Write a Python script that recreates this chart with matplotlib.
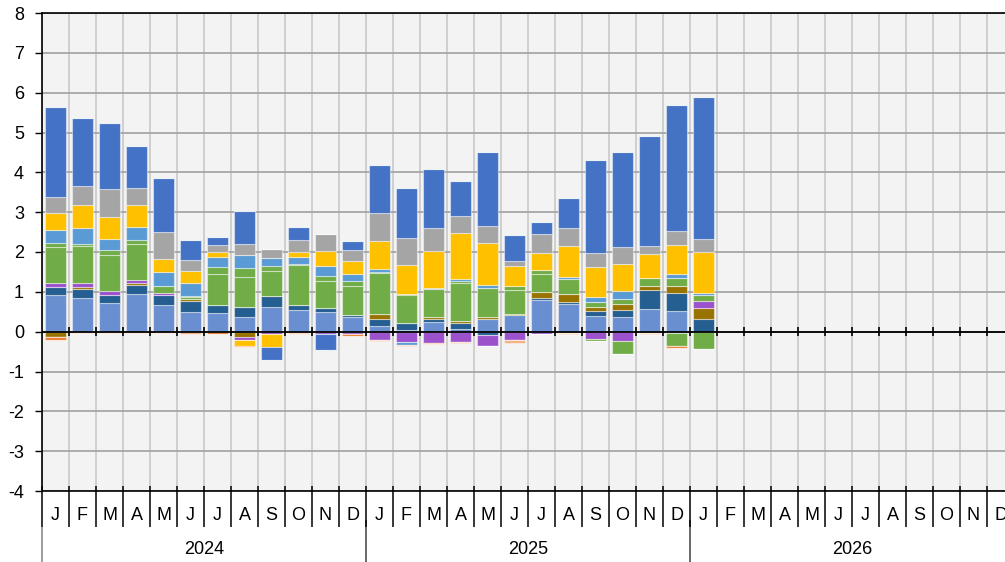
import numpy as np
import matplotlib.pyplot as plt

plt.rcParams['font.family'] = ['Liberation Sans', 'DejaVu Sans']
plt.rcParams['axes.unicode_minus'] = False

# 25 monthly bars: Jan 2024 .. Jan 2026, x axis spans 2024-2026
month_letters = ["J", "F", "M", "A", "M", "J", "J", "A", "S", "O", "N", "D"]
years = ["2024", "2025", "2026"]

# stacked components (percentage points), order = stacking order
steel = [0.93, 0.85, 0.72, 0.95, 0.68, 0.49, 0.46, 0.38, 0.63, 0.54, 0.49, 0.38,
         0.13, 0.03, 0.24, 0.07, 0.33, 0.42, 0.80, 0.69, 0.40, 0.37, 0.57, 0.51, 0.0]
dark_blue = [0.19, 0.22, 0.21, 0.22, 0.25, 0.29, 0.22, 0.24, 0.27, 0.12, 0.10, 0.05,
             0.19, 0.19, 0.08, 0.16, -0.09, 0.0, 0.04, 0.05, 0.11, 0.18, 0.47, 0.46, 0.32]
olive = [-0.14, 0.05, 0.0, 0.05, 0.0, 0.04, 0.0, -0.14, 0.0, -0.03, 0.0, 0.0,
         0.13, 0.0, 0.05, 0.05, 0.03, 0.02, 0.15, 0.21, 0.12, 0.15, 0.10, 0.17, 0.27]
purple = [0.10, 0.10, 0.08, 0.07, 0.04, 0.0, -0.02, -0.06, -0.07, 0.0, -0.06, -0.07,
          -0.20, -0.25, -0.28, -0.27, -0.27, -0.22, -0.05, -0.03, -0.18, -0.23, -0.04, -0.03, 0.17]
green = [0.91, 0.94, 0.92, 0.92, 0.18, 0.05, 0.78, 0.75, 0.62, 1.02, 0.68, 0.71,
         1.02, 0.69, 0.69, 0.95, 0.74, 0.60, 0.47, 0.37, 0.11, 0.13, 0.21, 0.20, 0.17]
green2 = [0.10, 0.04, 0.13, 0.08, 0.0, 0.03, 0.16, 0.23, 0.14, 0.02, 0.12, 0.12,
          0.04, 0.04, 0.0, 0.03, 0.0, 0.11, 0.08, 0.0, -0.06, -0.32, 0.0, -0.34, -0.43]
light_blue = [0.31, 0.39, 0.27, 0.35, 0.35, 0.31, 0.25, 0.32, 0.19, 0.17, 0.27, 0.20,
              0.06, -0.08, 0.04, 0.07, 0.08, 0.0, 0.0, 0.04, 0.14, 0.18, 0.0, 0.12, 0.04]
yellow = [0.44, 0.60, 0.55, 0.54, 0.33, 0.32, 0.12, -0.17, -0.32, 0.12, 0.37, 0.31,
          0.71, 0.72, 0.92, 1.14, 1.05, 0.51, 0.43, 0.78, 0.74, 0.69, 0.61, 0.72, 1.02]
gray = [0.41, 0.47, 0.70, 0.43, 0.67, 0.26, 0.19, 0.29, 0.22, 0.30, 0.43, 0.27,
        0.69, 0.67, 0.57, 0.44, 0.43, 0.11, 0.47, 0.45, 0.35, 0.42, 0.20, 0.34, 0.34]
blue = [2.26, 1.70, 1.67, 1.06, 1.37, 0.50, 0.20, 0.82, -0.31, 0.33, -0.39, 0.23,
        1.21, 1.26, 1.50, 0.86, 1.85, 0.65, 0.32, 0.76, 2.34, 2.39, 2.76, 3.17, 3.55]
orange = [-0.08, -0.03, -0.03, -0.03, -0.04, 0.0, -0.04, -0.02, 0.0, -0.03, 0.0, -0.03,
          0.0, 0.0, -0.02, 0.0, 0.0, 0.0, 0.0, 0.0, 0.0, 0.0, 0.0, -0.03, 0.0]
peach = [0.0, 0.0, 0.0, 0.0, 0.0, -0.07, 0.0, 0.0, 0.0, 0.0, 0.0, 0.0,
         -0.03, -0.03, 0.0, -0.01, 0.0, -0.06, 0.0, -0.02, 0.0, 0.0, -0.02, 0.0, 0.0]

series = [
    (steel, "#6a8fd0"),
    (dark_blue, "#255e91"),
    (olive, "#997300"),
    (purple, "#9b52cc"),
    (green, "#70ad47"),
    (green2, "#70ad47"),
    (light_blue, "#5b9bd5"),
    (yellow, "#ffc000"),
    (gray, "#a5a5a5"),
    (blue, "#4472c4"),
    (orange, "#ed7d31"),
    (peach, "#f4b183"),
]

n_months = 12 * len(years)
x = np.arange(len(steel)) + 0.5

fig = plt.figure(figsize=(10.05, 5.62), dpi=100)
ax = fig.add_axes([42 / 1005, 71 / 562, 972 / 1005, 478 / 562])
ax.set_facecolor("#f3f3f3")

pos_bottom = np.zeros(len(x))
neg_bottom = np.zeros(len(x))
for vals, col in series:
    v = np.array(vals)
    p = np.where(v > 0, v, 0)
    n = np.where(v < 0, v, 0)
    ax.bar(x, p, width=0.78, bottom=pos_bottom, color=col,
           edgecolor=(1, 1, 1, 0.45), linewidth=0.8, zorder=3)
    ax.bar(x, n, width=0.78, bottom=neg_bottom, color=col,
           edgecolor=(1, 1, 1, 0.45), linewidth=0.8, zorder=3)
    pos_bottom += p
    neg_bottom += n

ax.set_xlim(0, n_months)
ax.set_ylim(-4, 8)

# grid
for y in range(-4, 9):
    ax.axhline(y, color="#a6a6a6", linewidth=1.3, zorder=1)
for b in range(n_months + 1):
    ax.axvline(b, color="#c8c8c8", linewidth=1.2, zorder=0.5)

# zero line with month ticks
ax.axhline(0, color="black", linewidth=1.3, zorder=4)
ax.vlines(np.arange(1, n_months), -0.11, 0.11, color="black", linewidth=1.2, zorder=4)

for s in ["left", "bottom", "top"]:
    ax.spines[s].set_color("black")
    ax.spines[s].set_linewidth(1.2)
ax.spines["right"].set_visible(False)

ax.set_yticks(range(-4, 9))
ax.tick_params(axis="y", length=5, width=1, labelsize=13, pad=8)
ax.set_xticks([])

# month boundary ticks below axis
tr = ax.get_xaxis_transform()
ax.vlines(np.arange(0, n_months + 1), 5 / 478, -36 / 478, transform=tr,
          color="black", linewidth=1.1, clip_on=False, zorder=5)

# month letters and years
for i in range(n_months):
    ax.text(i + 0.5, -24 / 478, month_letters[i % 12], transform=tr,
            ha="center", va="center", fontsize=13)
for k, yr in enumerate(years):
    ax.text(12 * k + 6, -59 / 478, yr, transform=tr,
            ha="center", va="center", fontsize=13)
ax.vlines([0], -36 / 478, -75 / 478, transform=tr, color="#808080",
          linewidth=1.1, clip_on=False)
ax.vlines([12, 24], -29 / 478, -75 / 478, transform=tr, color="#404040",
          linewidth=1.1, clip_on=False)

fig.savefig("out.png", dpi=100)
